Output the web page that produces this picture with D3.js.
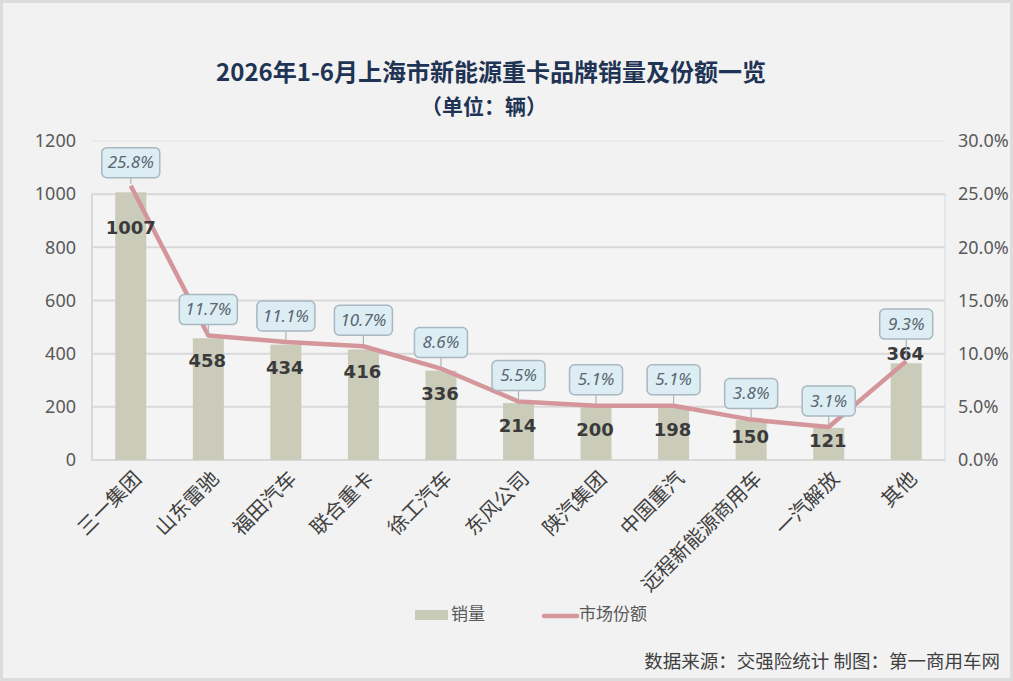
<!DOCTYPE html>
<html><head><meta charset="utf-8">
<script src="https://cdn.jsdelivr.net/npm/d3@7/dist/d3.min.js"></script>
<style>
html,body{margin:0;padding:0;background:#f2f2f2;}
svg{display:block;font-family:"Noto Sans CJK SC","Noto Sans",sans-serif;}
</style></head><body>
<svg id="c" width="1013" height="681"></svg>
<script>
const categories = ["三一集团","山东雷驰","福田汽车","联合重卡","徐工汽车","东风公司","陕汽集团","中国重汽","远程新能源商用车","一汽解放","其他"];
const sales = [1007,458,434,416,336,214,200,198,150,121,364];
const shares = [25.8,11.7,11.1,10.7,8.6,5.5,5.1,5.1,3.8,3.1,9.3];
const leftTicks = [0,200,400,600,800,1000,1200];
const rightTicks = [0,5,10,15,20,25,30];
const title = "2026年1-6月上海市新能源重卡品牌销量及份额一览";
const subtitle = "（单位：辆）";
const legendLabels = ["销量","市场份额"];
const source = "数据来源：交强险统计 制图：第一商用车网";

const W=1013,H=681;
const m={l:92,r:945,t:141,b:460};
const svg=d3.select("#c");
svg.append("rect").attr("x",1).attr("y",1).attr("width",W-2).attr("height",H-2)
  .attr("fill","#f2f2f2").attr("stroke","#dcdcdc").attr("stroke-width",4);

const xb=d3.scaleBand().domain(categories).range([m.l,m.r]);
const x=d3.scaleBand().domain(categories).range([m.l,m.r]).paddingInner(0.6).paddingOuter(0.3);
const xc=d=>xb(d)+xb.bandwidth()/2;
const y=d3.scaleLinear().domain([0,1200]).range([m.b,m.t]);
const y2=d3.scaleLinear().domain([0,30]).range([m.b,m.t]);

// plot area
svg.append("rect").attr("x",m.l).attr("y",y(1000)).attr("width",m.r-m.l).attr("height",m.b-y(1000))
  .attr("fill","#f4f4f4").attr("stroke","#dde3ea").attr("stroke-width",1.5);

// grid
svg.append("g").selectAll("line").data(leftTicks).join("line")
  .attr("x1",m.l).attr("x2",m.r).attr("y1",d=>y(d)).attr("y2",d=>y(d))
  .attr("stroke",d=>d===1200?"#ebebeb":"#d9d9d9").attr("stroke-width",2);

// left axis
const ga=svg.append("g").attr("transform",`translate(${m.l-16},0)`)
  .call(d3.axisLeft(y).tickValues(leftTicks).tickSize(0).tickPadding(0).tickFormat(d3.format("d")));
ga.select(".domain").remove();
ga.selectAll("text").attr("font-size",18).attr("fill","#595959").attr("font-family","Noto Sans, sans-serif");
svg.append("line").attr("x1",m.l).attr("x2",m.l).attr("y1",y(1000)).attr("y2",m.b).attr("stroke","#d0d6de").attr("stroke-width",1.5);

// right axis
const gr=svg.append("g").attr("transform",`translate(${m.r+13},0)`)
  .call(d3.axisRight(y2).tickValues(rightTicks).tickSize(0).tickPadding(0).tickFormat(d=>d.toFixed(1)+"%"));
gr.select(".domain").remove();
gr.selectAll("text").attr("font-size",18).attr("fill","#595959").attr("font-family","Noto Sans, sans-serif");

// bars
svg.append("g").selectAll("rect").data(categories).join("rect")
  .attr("x",d=>x(d)).attr("width",x.bandwidth())
  .attr("y",(d,i)=>y(sales[i])).attr("height",(d,i)=>m.b-y(sales[i]))
  .attr("fill","#cbcbba");

// x labels
svg.append("g").selectAll("text").data(categories).join("text")
  .attr("transform",d=>`translate(${xc(d)+8},${m.b+16}) rotate(-45)`)
  .attr("text-anchor","end").attr("dominant-baseline","middle")
  .attr("font-size",20).attr("fill","#404040").text(d=>d);

// line
const line=d3.line().x((d,i)=>xc(categories[i])).y(d=>y2(d)).curve(d3.curveLinear);
svg.append("path").datum(shares).attr("d",line).attr("fill","none")
  .attr("stroke","#d4959b").attr("stroke-width",4.5).attr("stroke-linejoin","round");

// bar value labels
svg.append("g").selectAll("text").data(sales).join("text")
  .attr("x",(d,i)=>xc(categories[i])-(i===0?0:1))
  .attr("y",(d,i)=>{const h=m.b-y(d); const off=i===0?37:(i===10?-8:Math.min(24,h*0.45)); return y(d)+off;})
  .attr("text-anchor","middle").attr("dominant-baseline","middle")
  .attr("font-size",18).attr("font-weight","bold").attr("fill","#3a3a3a")
  .attr("font-family","DejaVu Sans, sans-serif").text(d=>d);

// share callouts
const cg=svg.append("g");
shares.forEach((s,i)=>{
  const cx=xc(categories[i]), py=y2(s);
  const up = i===10?37:(i===0?23:26);
  const cy=py-up, bw=s>=10?58:53, bh=30;
  cg.append("line").attr("x1",cx).attr("x2",cx).attr("y1",cy+bh/2).attr("y2",py-2)
    .attr("stroke","#a8b4bc").attr("stroke-width",1.2);
  cg.append("rect").attr("x",cx-bw/2).attr("y",cy-bh/2).attr("width",bw).attr("height",bh)
    .attr("rx",5).attr("fill","#dcedf3").attr("stroke","#a9b8c0").attr("stroke-width",1.5);
  cg.append("text").attr("x",cx).attr("y",cy+1).attr("text-anchor","middle").attr("dominant-baseline","middle")
    .attr("font-size",17).attr("font-style","italic").attr("fill","#5a6670")
    .attr("font-family","Noto Sans, sans-serif").text(s.toFixed(1)+"%");
});

// title
svg.append("text").attr("x",491).attr("y",74).attr("text-anchor","middle").attr("dominant-baseline","middle")
  .attr("font-size",24).attr("font-weight","bold").attr("fill","#1f3454").text(title);
svg.append("text").attr("x",484).attr("y",108).attr("text-anchor","middle").attr("dominant-baseline","middle")
  .attr("font-size",21).attr("font-weight","bold").attr("fill","#1f3454").text(subtitle);

// legend
const lg=svg.append("g");
lg.append("rect").attr("x",415).attr("y",610).attr("width",33).attr("height",10).attr("fill","#cbcbba");
lg.append("text").attr("x",451).attr("y",615).attr("dominant-baseline","middle").attr("font-size",17).attr("fill","#595959").text(legendLabels[0]);
lg.append("line").attr("x1",544).attr("x2",577).attr("y1",616).attr("y2",616).attr("stroke","#d4959b").attr("stroke-width",4.5).attr("stroke-linecap","round");
lg.append("text").attr("x",579).attr("y",615).attr("dominant-baseline","middle").attr("font-size",17).attr("fill","#595959").text(legendLabels[1]);

// source
svg.append("text").attr("x",1000).attr("y",663).attr("text-anchor","end").attr("dominant-baseline","middle")
  .attr("font-size",18.5).attr("fill","#404040").text(source);
</script></body></html>
